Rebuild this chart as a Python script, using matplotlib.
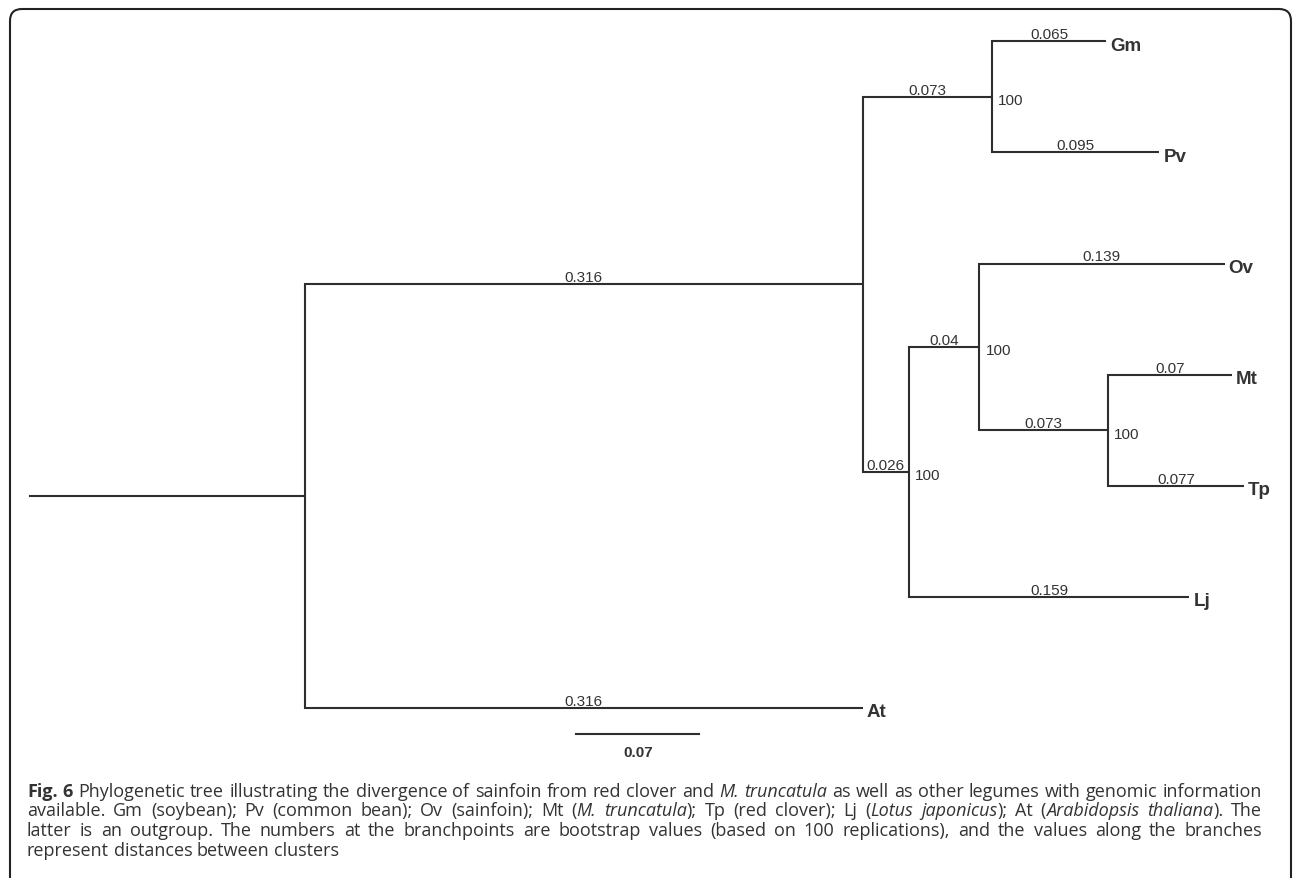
import matplotlib
matplotlib.use('Agg')
import matplotlib.pyplot as plt
from matplotlib.patches import FancyBboxPatch
from matplotlib.transforms import IdentityTransform

# tips, top to bottom, with the length of their own branch
taxa = ['Gm', 'Pv', 'Ov', 'Mt', 'Tp', 'Lj', 'At']
taxa_len = [0.065, 0.095, 0.139, 0.07, 0.077, 0.159, 0.316]

# internal nodes (children first): kids, length of branch above, bootstrap
clades = ['GmPv', 'MtTp', 'OvMtTp', 'Core', 'Legumes', 'Root']
clade_kids = [['Gm', 'Pv'], ['Mt', 'Tp'], ['Ov', 'MtTp'], ['OvMtTp', 'Lj'],
              ['GmPv', 'Core'], ['Legumes', 'At']]
clade_len = [0.073, 0.073, 0.04, 0.026, 0.316, 0.0]
clade_boot = [100, 100, 100, 100, None, None]

scale_len = 0.07

# caption lines as (text, style) pieces
caption = [
    [('Fig. 6', 'bold'),
     (' Phylogenetic tree illustrating the divergence of sainfoin from red clover and ', 'normal'),
     ('M. truncatula', 'italic'),
     (' as well as other legumes with genomic information', 'normal')],
    [('available. Gm (soybean); Pv (common bean); Ov (sainfoin); Mt (', 'normal'),
     ('M. truncatula', 'italic'),
     ('); Tp (red clover); Lj (', 'normal'),
     ('Lotus japonicus', 'italic'),
     ('); At (', 'normal'),
     ('Arabidopsis thaliana', 'italic'),
     ('). The', 'normal')],
    [('latter is an outgroup. The numbers at the branchpoints are bootstrap values '
      '(based on 100 replications), and the values along the branches', 'normal')],
    [('represent distances between clusters', 'normal')],
]

LINE = '#2e2e2e'
TXT = '#333333'

# tree layout
length = dict(zip(taxa, taxa_len))
length.update(zip(clades, clade_len))
kids = dict(zip(clades, clade_kids))
boot = dict(zip(clades, clade_boot))
parent = {k: c for c in clades for k in kids[c]}

ypos = {t: i for i, t in enumerate(taxa)}
for c in clades:
    ypos[c] = sum(ypos[k] for k in kids[c]) / 2
xpos = {'Root': 0.0}
for c in reversed(clades):
    for k in kids[c]:
        xpos[k] = xpos[c] + length[k]

W, H = 1293, 879
fig = plt.figure(figsize=(W / 100, H / 100), dpi=100)
ax = fig.add_axes([0, 0, 1, 1])
px_x, px_y = 1765, 111.1   # pixels per distance unit / per row
ax.set_xlim(-305 / px_x, (W - 305) / px_x)
ax.set_ylim((H - 42.3) / px_y, -42.3 / px_y)
ax.axis('off')

lw = 1.5
for c in clades:
    k1, k2 = kids[c]
    ax.plot([xpos[k1], xpos[c], xpos[c], xpos[k2]],
            [ypos[k1], ypos[k1], ypos[k2], ypos[k2]],
            color=LINE, lw=lw, solid_joinstyle='miter', solid_capstyle='butt')
# root stem
ax.plot([-0.156, 0], [ypos['Root']] * 2, color=LINE, lw=lw)

lab = dict(family='Liberation Sans', color=TXT)
for n, p in parent.items():
    ax.annotate(f'{length[n]:g}', xy=((xpos[p] + xpos[n]) / 2, ypos[n]),
                xytext=(0, 2.2), textcoords='offset points',
                ha='center', va='baseline', fontsize=11, **lab)
for c in clades:
    if boot[c] is not None:
        ax.annotate(str(boot[c]), xy=(xpos[c], ypos[c]), xytext=(4.5, -2.5),
                    textcoords='offset points', ha='left', va='center',
                    fontsize=11, **lab)
for t in taxa:
    ax.annotate(t, xy=(xpos[t], ypos[t]), xytext=(3, -6),
                textcoords='offset points', ha='left', va='baseline',
                fontsize=13.5, fontweight='bold', **lab)

# scale bar
sb_x, sb_y = 0.1535, 6.235
ax.plot([sb_x, sb_x + scale_len], [sb_y, sb_y], color=LINE, lw=lw)
ax.annotate(f'{scale_len:g}', xy=(sb_x + scale_len / 2, sb_y), xytext=(0, -15.8),
            textcoords='offset points', ha='center', va='baseline',
            fontsize=11, fontweight='bold', **lab)

# caption: justified, drawn word by word so bold / italic pieces share a line
renderer = fig.canvas.get_renderer()
styles = {'normal': dict(), 'bold': dict(fontweight='bold'), 'italic': dict(fontstyle='italic')}
cap_kw = dict(fontsize=13, family='Open Sans', color=TXT, transform=IdentityTransform(),
              ha='left', va='baseline')


def width(s, st):
    t = fig.text(0, 0, s, **cap_kw, **styles[st])
    w = t.get_window_extent(renderer).width
    t.remove()
    return w


space = width('x x', 'normal') - width('xx', 'normal')
left, right = 27, 1262
for i, pieces in enumerate(caption):
    # words with a flag telling whether a space comes before them
    words = []
    pending = False
    for s, st in pieces:
        for k, wd in enumerate(s.split(' ')):
            if k > 0:
                pending = True
            if wd:
                words.append((wd, st, pending and bool(words)))
                pending = False
    widths = [width(wd, st) for wd, st, _ in words]
    ngaps = sum(g for _, _, g in words)
    natural = sum(widths) + space * ngaps
    last = i == len(caption) - 1
    extra = 0 if last else max(0, (right - left - natural) / ngaps)
    x = left
    y = H - 796.7 - 19.8 * i
    for (wd, st, g), w in zip(words, widths):
        if g:
            x += space + extra
        fig.text(x, y, wd, **cap_kw, **styles[st])
        x += w

# rounded frame, open at the bottom
frame = FancyBboxPatch((10, -40), 1281, H - 10 + 40,
                       boxstyle='round,pad=0,rounding_size=12',
                       transform=IdentityTransform(), fill=False,
                       ec='#222222', lw=1.5)
fig.add_artist(frame)

fig.savefig('out.png', dpi=100)
